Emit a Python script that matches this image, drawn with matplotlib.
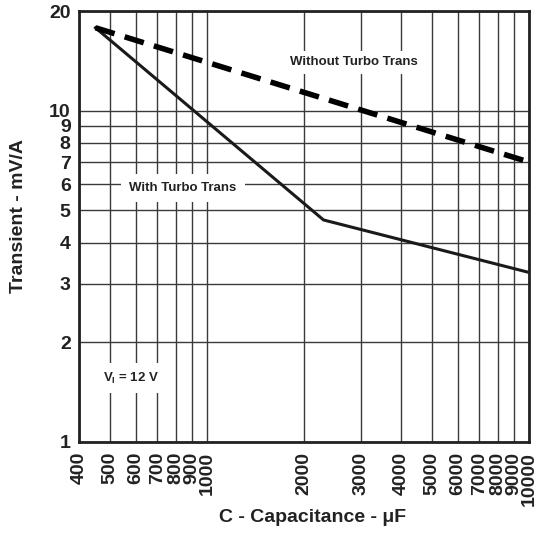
import matplotlib
matplotlib.use('Agg')
import matplotlib.pyplot as plt
from matplotlib.ticker import FixedLocator, FixedFormatter, NullLocator

plt.rcParams['font.family'] = ['Liberation Sans', 'DejaVu Sans']
plt.rcParams['font.weight'] = 'bold'
plt.rcParams['mathtext.fontset'] = 'custom'
plt.rcParams['mathtext.bf'] = 'Liberation Sans:bold'
plt.rcParams['mathtext.rm'] = 'Liberation Sans:bold'

# data
cap_without = [450, 10000]
trans_without = [17.8, 7.0]
cap_with = [450, 2300, 10000]
trans_with = [17.8, 4.68, 3.25]

x_ticks = [400, 500, 600, 700, 800, 900, 1000,
           2000, 3000, 4000, 5000, 6000, 7000, 8000, 9000, 10000]
y_ticks = [1, 2, 3, 4, 5, 6, 7, 8, 9, 10, 20]

fig = plt.figure(figsize=(5.4, 5.33), dpi=100)
ax = fig.add_axes([79 / 540, 91 / 533, 450 / 540, 431 / 533])
ax.set_xscale('log')
ax.set_yscale('log')
ax.set_xlim(400, 10000)
ax.set_ylim(1, 20)

# grid
for xv in x_ticks:
    ax.axvline(xv, color='#3a3a3a', lw=1.0, zorder=1)
for yv in y_ticks:
    ax.axhline(yv, color='#3a3a3a', lw=1.0, zorder=1)

# curves
ax.plot(cap_with, trans_with, color='#1a1a1a', lw=2.2, zorder=3)
ln, = ax.plot(cap_without, trans_without, color='black', lw=4.0, zorder=3)
ln.set_dashes((3.6, 1.9))

# labels in the plot
box = dict(facecolor='white', edgecolor='none', pad=4)
ax.text(2860, 14.0, 'Without Turbo Trans', fontsize=9.5, fontweight='bold',
        ha='center', va='center', color='#222222', bbox=box, zorder=2)
ax.text(842, 5.85, 'With Turbo Trans', fontsize=9.5, fontweight='bold',
        ha='center', va='center', color='#222222',
        bbox=dict(facecolor='white', edgecolor='none', pad=6), zorder=2)
ax.text(580, 1.56, r'V$_\mathbf{I}$ = 12 V', fontsize=9.5, fontweight='bold',
        ha='center', va='center', color='#222222',
        bbox=dict(facecolor='white', edgecolor='none', pad=5), zorder=2)

# ticks
ax.xaxis.set_major_locator(FixedLocator(x_ticks))
ax.xaxis.set_major_formatter(FixedFormatter([str(v) for v in x_ticks]))
ax.xaxis.set_minor_locator(NullLocator())
ax.yaxis.set_major_locator(FixedLocator(y_ticks))
ax.yaxis.set_major_formatter(FixedFormatter([str(v) for v in y_ticks]))
ax.yaxis.set_minor_locator(NullLocator())
ax.tick_params(axis='x', length=0, pad=7, labelsize=14, labelrotation=90,
               colors='#222222')
ax.tick_params(axis='y', length=0, pad=6, labelsize=14, colors='#222222')
for lab in ax.get_xticklabels() + ax.get_yticklabels():
    lab.set_fontweight('bold')

for sp in ax.spines.values():
    sp.set_linewidth(2.0)
    sp.set_color('#222222')
    sp.set_zorder(4)

ax.set_xlabel('C - Capacitance - μF', fontsize=14, fontweight='bold',
              color='#222222')
ax.set_ylabel('Transient - mV/A', fontsize=14, fontweight='bold',
              color='#222222')
ax.xaxis.set_label_coords(0.518, -0.176)
ax.yaxis.set_label_coords(-0.135, 0.524)
ax.xaxis.label.set_va('center')
ax.yaxis.label.set_va('center')

fig.savefig('out.png', dpi=100)
